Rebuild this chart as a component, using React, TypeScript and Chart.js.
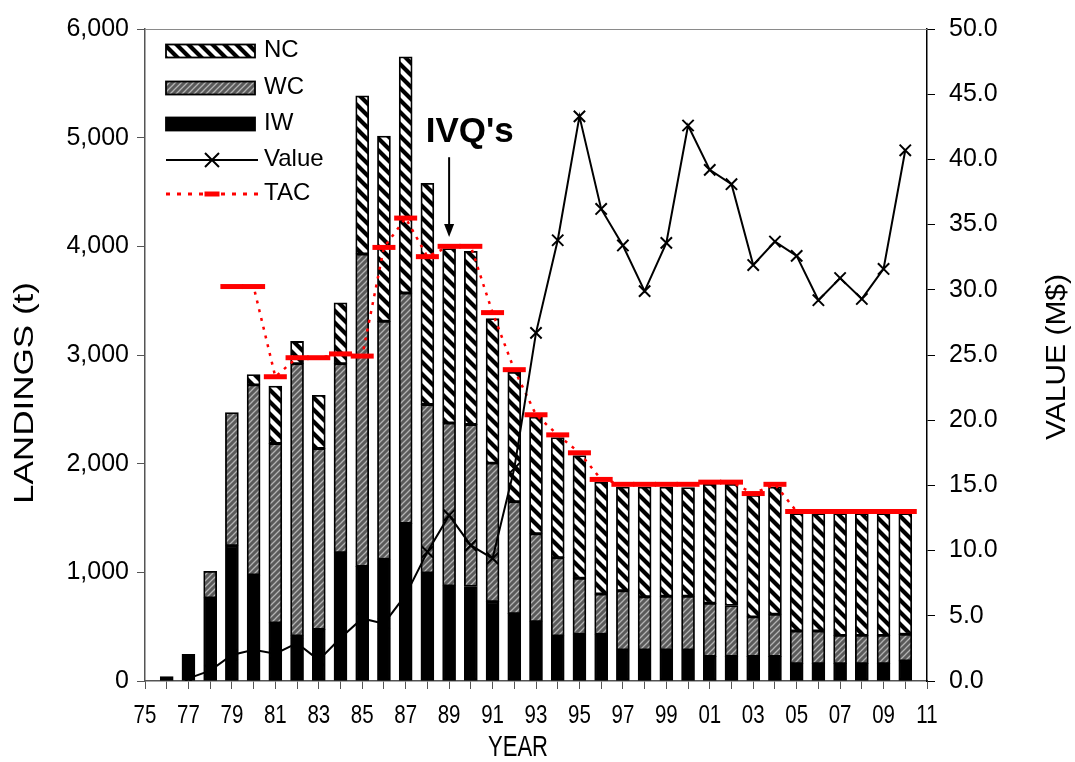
import React, { useEffect, useRef } from 'react';
import { Chart, registerables } from 'chart.js';

Chart.register(...registerables);

const FONT = "'Liberation Sans', Arial, sans-serif";

const years = [
  1976, 1977, 1978, 1979, 1980, 1981, 1982, 1983, 1984, 1985, 1986, 1987,
  1988, 1989, 1990, 1991, 1992, 1993, 1994, 1995, 1996, 1997, 1998, 1999,
  2000, 2001, 2002, 2003, 2004, 2005, 2006, 2007, 2008, 2009, 2010,
];
const iwLandings = [
  40, 245, 765, 1245, 975, 535, 415, 475, 1180, 1055, 1120, 1450,
  995, 875, 870, 730, 620, 545, 415, 430, 430, 285, 285, 285,
  285, 225, 225, 225, 225, 160, 160, 160, 160, 160, 185,
];
const wcLandings = [
  0, 0, 245, 1225, 1750, 1650, 2505, 1665, 1740, 2875, 2190, 2120,
  1550, 1500, 1490, 1275, 1030, 810, 720, 515, 370, 545, 490, 495,
  495, 490, 470, 365, 390, 300, 300, 260, 260, 260, 245,
];
const ncLandings = [
  0, 0, 0, 0, 95, 530, 205, 490, 560, 1455, 1705, 2175,
  2035, 1605, 1595, 1330, 1190, 1075, 1105, 1130, 1030, 955, 1010, 1005,
  1000, 1095, 1115, 1120, 1170, 1080, 1080, 1120, 1120, 1120, 1110,
];
const valueYears = [
  1977, 1978, 1979, 1980, 1981, 1982, 1983, 1984, 1985, 1986, 1987, 1988,
  1989, 1990, 1991, 1992, 1993, 1994, 1995, 1996, 1997, 1998, 1999, 2000,
  2001, 2002, 2003, 2004, 2005, 2006, 2007, 2008, 2009, 2010,
];
const valueMillions = [
  0.2, 0.8, 2.0, 2.4, 2.1, 2.9, 1.6, 3.3, 4.8, 4.4, 6.6, 9.9,
  12.7, 10.4, 9.4, 16.3, 26.7, 33.8, 43.3, 36.2, 33.4, 29.9, 33.6, 42.6,
  39.2, 38.1, 31.9, 33.7, 32.6, 29.2, 30.9, 29.3, 31.6, 40.7,
];
const tacYears = [
  1979, 1980, 1981, 1982, 1983, 1984, 1985, 1986, 1987, 1988, 1989, 1990,
  1991, 1992, 1993, 1994, 1995, 1996, 1997, 1998, 1999, 2000, 2001, 2002,
  2003, 2004, 2005, 2006, 2007, 2008, 2009, 2010,
];
const tacTonnes = [
  3630, 3630, 2800, 2975, 2975, 3010, 2990, 3990, 4260, 3905, 4000, 4000,
  3390, 2865, 2450, 2265, 2100, 1855, 1810, 1810, 1810, 1810, 1830, 1830,
  1725, 1810, 1560, 1560, 1560, 1560, 1560, 1560,
];
const xTickYears = [
  1975, 1977, 1979, 1981, 1983, 1985, 1987, 1989, 1991, 1993, 1995, 1997,
  1999, 2001, 2003, 2005, 2007, 2009, 2011,
];
const legendLabels = ['NC', 'WC', 'IW', 'Value', 'TAC'];
const annotationText = "IVQ's";
const annotationYear = 1989;
const xTitle = 'YEAR';
const yTitle = 'LANDINGS (t)';
const y2Title = 'VALUE (M$)';

function makeNcPattern(): CanvasPattern | string {
  const s = 12;
  const c = document.createElement('canvas');
  c.width = s; c.height = s;
  const g = c.getContext('2d');
  if (!g) return '#fff';
  g.fillStyle = '#fff';
  g.fillRect(0, 0, s, s);
  g.strokeStyle = '#000';
  g.lineWidth = 4.2;
  g.beginPath();
  for (const o of [-s, 0, s]) {
    g.moveTo(o - 2, -2);
    g.lineTo(o + s + 2, s + 2);
  }
  g.stroke();
  return g.createPattern(c, 'repeat') || '#fff';
}

function makeWcPattern(): CanvasPattern | string {
  const s = 6;
  const c = document.createElement('canvas');
  c.width = s; c.height = s;
  const g = c.getContext('2d');
  if (!g) return '#666';
  g.fillStyle = '#5a5a5a';
  g.fillRect(0, 0, s, s);
  g.strokeStyle = '#b4b4b4';
  g.lineWidth = 1.3;
  g.beginPath();
  for (const o of [-s, 0, s]) {
    g.moveTo(o - 1, s + 1);
    g.lineTo(o + s + 1, -1);
  }
  g.stroke();
  return g.createPattern(c, 'repeat') || '#666';
}

export default function App() {
  const ref = useRef<HTMLCanvasElement>(null);

  useEffect(() => {
    const canvas = ref.current;
    if (!canvas) return;
    const ncFill = makeNcPattern();
    const wcFill = makeWcPattern();

    const barDs = (label: string, vals: number[], bg: any) => ({
      type: 'bar' as const,
      label,
      data: years.map((yr, i) => ({ x: yr, y: vals[i] ? vals[i] : null })),
      backgroundColor: bg,
      borderColor: '#000',
      borderWidth: 1.8,
      borderSkipped: false,
      barThickness: 13,
      stack: 'land',
      yAxisID: 'y',
      order: 2,
    });

    const decor = {
      id: 'decor',
      afterDraw(chart: any) {
        const ctx = chart.ctx as CanvasRenderingContext2D;
        const area = chart.chartArea;
        const xs = chart.scales.x;
        const ys = chart.scales.y;
        ctx.save();
        ctx.strokeStyle = '#8a8a8a';
        ctx.lineWidth = 1;
        ctx.beginPath();
        ctx.moveTo(area.left, area.top + 0.5);
        ctx.lineTo(area.right, area.top + 0.5);
        ctx.stroke();

        // x tick labels (condensed, as in the reference)
        ctx.fillStyle = '#000';
        ctx.font = `25px ${FONT}`;
        ctx.textAlign = 'center';
        ctx.textBaseline = 'alphabetic';
        for (const yr of xTickYears) {
          ctx.save();
          ctx.translate(xs.getPixelForValue(yr), 723);
          ctx.scale(0.82, 1);
          ctx.fillText(String(yr % 100).padStart(2, '0'), 0, 0);
          ctx.restore();
        }

        // annotation
        ctx.fillStyle = '#000';
        ctx.font = `bold 35px ${FONT}`;
        ctx.textAlign = 'center';
        ctx.textBaseline = 'middle';
        ctx.fillText(annotationText, xs.getPixelForValue(annotationYear + 0.95), ys.getPixelForValue(5050));
        const ax = xs.getPixelForValue(annotationYear);
        const aTop = ys.getPixelForValue(4820);
        const aTip = ys.getPixelForValue(4085);
        ctx.strokeStyle = '#000';
        ctx.lineWidth = 2;
        ctx.beginPath();
        ctx.moveTo(ax, aTop);
        ctx.lineTo(ax, aTip - 8);
        ctx.stroke();
        ctx.beginPath();
        ctx.moveTo(ax, aTip);
        ctx.lineTo(ax - 5, aTip - 13);
        ctx.lineTo(ax + 5, aTip - 13);
        ctx.closePath();
        ctx.fill();

        // legend
        const lx0 = 166, lx1 = 255, tx = 264;
        const rows = [51, 88, 124, 160, 194];
        const fills = [ncFill, wcFill, '#000'];
        for (let i = 0; i < 3; i++) {
          ctx.fillStyle = fills[i] as any;
          ctx.fillRect(lx0, rows[i] - 6.5, lx1 - lx0, 13);
          ctx.strokeStyle = '#000';
          ctx.lineWidth = 1.8;
          ctx.strokeRect(lx0, rows[i] - 6.5, lx1 - lx0, 13);
        }
        ctx.strokeStyle = '#000';
        ctx.lineWidth = 2;
        ctx.beginPath();
        ctx.moveTo(lx0, rows[3]);
        ctx.lineTo(lx1 + 3, rows[3]);
        ctx.stroke();
        const mx = (lx0 + lx1 + 3) / 2;
        ctx.beginPath();
        ctx.moveTo(mx - 7, rows[3] - 7); ctx.lineTo(mx + 7, rows[3] + 7);
        ctx.moveTo(mx + 7, rows[3] - 7); ctx.lineTo(mx - 7, rows[3] + 7);
        ctx.stroke();
        ctx.strokeStyle = '#ff0000';
        ctx.lineWidth = 3;
        ctx.setLineDash([4, 7]);
        ctx.beginPath();
        ctx.moveTo(lx0, rows[4]);
        ctx.lineTo(lx1 + 3, rows[4]);
        ctx.stroke();
        ctx.setLineDash([]);
        ctx.lineWidth = 5;
        ctx.beginPath();
        ctx.moveTo(mx - 7.5, rows[4]);
        ctx.lineTo(mx + 7.5, rows[4]);
        ctx.stroke();
        ctx.fillStyle = '#000';
        ctx.font = `24px ${FONT}`;
        ctx.textAlign = 'left';
        ctx.textBaseline = 'middle';
        legendLabels.forEach((t, i) => ctx.fillText(t, tx, rows[i] - 1));

        // axis titles
        const drawTitle = (t: string, x: number, y: number, rot: number, size: number, len: number) => {
          ctx.save();
          ctx.translate(x, y);
          ctx.rotate(rot);
          ctx.font = `${size}px ${FONT}`;
          const w = ctx.measureText(t).width;
          ctx.scale(len / w, 1);
          ctx.textAlign = 'center';
          ctx.textBaseline = 'middle';
          ctx.fillStyle = '#000';
          ctx.fillText(t, 0, 0);
          ctx.restore();
        };
        drawTitle(yTitle, 25, 393, -Math.PI / 2, 28, 222);
        drawTitle(y2Title, 1057, 357, -Math.PI / 2, 28, 166);
        drawTitle(xTitle, 518, 748, 0, 30, 60);
        ctx.restore();
      },
    };

    const chart = new Chart(canvas, {
      type: 'bar',
      data: {
        datasets: [
          barDs('IW', iwLandings, '#000'),
          barDs('WC', wcLandings, wcFill),
          barDs('NC', ncLandings, ncFill),
          {
            type: 'line',
            label: 'TAC',
            data: tacYears.map((yr, i) => ({ x: yr, y: tacTonnes[i] })),
            yAxisID: 'y',
            stack: 'tac',
            borderColor: '#ff0000',
            borderWidth: 2.5,
            borderDash: [3, 6],
            pointStyle: 'line',
            pointRadius: 11.5,
            pointBorderWidth: 5,
            pointBorderColor: '#ff0000',
            pointBackgroundColor: '#ff0000',
            fill: false,
            order: 1,
          } as any,
          {
            type: 'line',
            label: 'Value',
            data: valueYears.map((yr, i) => ({ x: yr, y: valueMillions[i] })),
            yAxisID: 'y2',
            borderColor: '#000',
            borderWidth: 2,
            pointStyle: 'crossRot',
            pointRadius: 8,
            pointBorderWidth: 2,
            pointBorderColor: '#000',
            fill: false,
            order: 0,
          } as any,
        ],
      },
      options: {
        responsive: false,
        animation: false,
        devicePixelRatio: 1,
        layout: { padding: { left: 0, right: 0, top: 28, bottom: 0 } },
        plugins: {
          legend: { display: false },
          tooltip: { enabled: false },
        },
        scales: {
          x: {
            type: 'linear',
            min: 1975,
            max: 2011,
            offset: false,
            grid: { offset: false, drawOnChartArea: false, drawTicks: true, tickLength: 8, color: '#555', lineWidth: 1 },
            border: { display: true, color: '#555', width: 1.5 },
            ticks: {
              stepSize: 1,
              maxTicksLimit: 100,
              autoSkip: false,
              maxRotation: 0,
              minRotation: 0,
              padding: 9,
              color: '#000',
              font: { family: FONT, size: 12 },
              callback: () => '',
            },
            afterFit: (s: any) => { s.height = 81; },
          },
          y: {
            type: 'linear',
            position: 'left',
            min: 0,
            max: 6000,
            stacked: true,
            grid: { drawOnChartArea: false, drawTicks: true, tickLength: 8, color: '#555' },
            border: { display: true, color: '#555', width: 1.5 },
            ticks: {
              stepSize: 1000,
              padding: 8,
              color: '#000',
              font: { family: FONT, size: 25 },
              callback: (v: any) => Number(v).toLocaleString('en-US'),
            },
            afterFit: (s: any) => { s.width = 145; },
          },
          y2: {
            type: 'linear',
            position: 'right',
            min: 0,
            max: 50,
            grid: { drawOnChartArea: false, drawTicks: true, tickLength: 8, color: '#000' },
            border: { display: true, color: '#000', width: 1.5 },
            ticks: {
              stepSize: 5,
              padding: 14,
              color: '#000',
              font: { family: FONT, size: 25 },
              callback: (v: any) => Number(v).toFixed(1),
            },
            afterFit: (s: any) => { s.width = 148; },
          },
        },
      } as any,
      plugins: [decor],
    });
    return () => chart.destroy();
  }, []);

  return (
    <div style={{ position: 'fixed', left: 0, top: 0, width: 1075, height: 762, background: '#fff' }}>
      <canvas ref={ref} width={1075} height={762} style={{ display: 'block', width: 1075, height: 762 }} />
    </div>
  );
}
